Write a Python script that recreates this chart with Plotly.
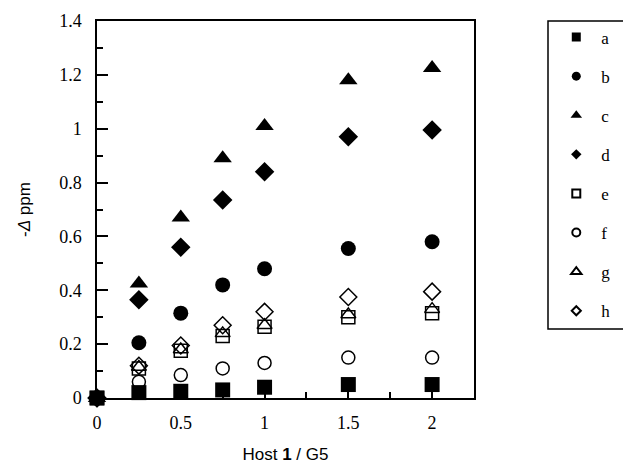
import plotly.graph_objects as go

x_vals = [0, 0.25, 0.5, 0.75, 1, 1.5, 2]
series_names = ["a", "b", "c", "d", "e", "f", "g", "h"]
a_vals = [0, 0.02, 0.025, 0.03, 0.04, 0.05, 0.05]
b_vals = [0, 0.205, 0.315, 0.42, 0.48, 0.555, 0.58]
c_vals = [0, 0.425, 0.67, 0.89, 1.01, 1.18, 1.225]
d_vals = [0, 0.365, 0.56, 0.735, 0.84, 0.97, 0.995]
e_vals = [0, 0.11, 0.175, 0.23, 0.265, 0.30, 0.315]
f_vals = [0, 0.06, 0.085, 0.11, 0.13, 0.15, 0.15]
g_vals = [0, 0.115, 0.18, 0.24, 0.27, 0.31, 0.33]
h_vals = [0, 0.12, 0.195, 0.27, 0.32, 0.375, 0.395]

all_vals = [a_vals, b_vals, c_vals, d_vals, e_vals, f_vals, g_vals, h_vals]
symbols = ["square", "circle", "triangle-up", "diamond",
           "square-open", "circle-open", "triangle-up-open", "diamond-open"]
sizes = [15, 15, 16, 15, 13, 13, 13, 13]
leg_sizes = [9, 9, 10, 8, 8, 8, 9, 7]

fig = go.Figure()
for name, vals, sym, sz in zip(series_names, all_vals, symbols, sizes):
    fig.add_trace(go.Scatter(
        x=x_vals, y=vals, mode="markers", showlegend=False, cliponaxis=False,
        marker=dict(symbol=sym, size=sz, color="black",
                    line=dict(color="black", width=1.5 if "open" in sym else 0)),
    ))
for name, sym, sz in zip(series_names, symbols, leg_sizes):
    fig.add_trace(go.Scatter(
        x=[None], y=[None], mode="markers", name=name, legendgroup=name,
        marker=dict(symbol=sym, size=sz, color="black",
                    line=dict(color="black", width=2 if "open" in sym else 0)),
    ))

axis_common = dict(
    showgrid=False, zeroline=False, showline=True, linecolor="black", linewidth=1.5,
    mirror=True, ticks="inside", ticklen=11, tickwidth=1.5, tickcolor="black",
    tickfont=dict(family="Liberation Serif", size=18, color="black"),
)
fig.update_layout(
    width=631, height=464,
    margin=dict(l=89, r=165, t=13, b=74, autoexpand=False),
    plot_bgcolor="white", paper_bgcolor="white",
    xaxis=dict(range=[0, 2.25], tickvals=[0, 0.5, 1, 1.5, 2], ticktext=["0", "0.5", "1", "1.5", "2"],
               minor=dict(dtick=0.25, tick0=0, ticks="inside", ticklen=6, tickwidth=1.5, tickcolor="black"),
               ticklabelstandoff=8,
               title=dict(text="Host <b>1</b> / G5", font=dict(family="Liberation Sans", size=17, color="black"), standoff=16),
               **axis_common),
    yaxis=dict(range=[0, 1.4], dtick=0.2, tickformat="~g",
               minor=dict(dtick=0.1, tick0=0, ticks="inside", ticklen=6, tickwidth=1.5, tickcolor="black"),
               ticklabelstandoff=10,
               title=dict(text="-<i>Δ</i> ppm", font=dict(family="Liberation Sans", size=17, color="black"), standoff=24),
               **axis_common),
    legend=dict(x=1.205, y=1.004, xanchor="left", yanchor="top",
                borderwidth=0, bgcolor="rgba(0,0,0,0)", maxheight=600,
                font=dict(family="Liberation Serif", size=17, color="black"),
                tracegroupgap=14, itemwidth=40),
    shapes=[dict(type="rect", xref="paper", yref="paper",
                 x0=(548 - 97) / 377, x1=(650 - 97) / 377,
                 y0=(398 - 329) / 377, y1=1.0,
                 line=dict(color="black", width=1.5), fillcolor="rgba(0,0,0,0)")],
)
fig.write_html("out.html")
